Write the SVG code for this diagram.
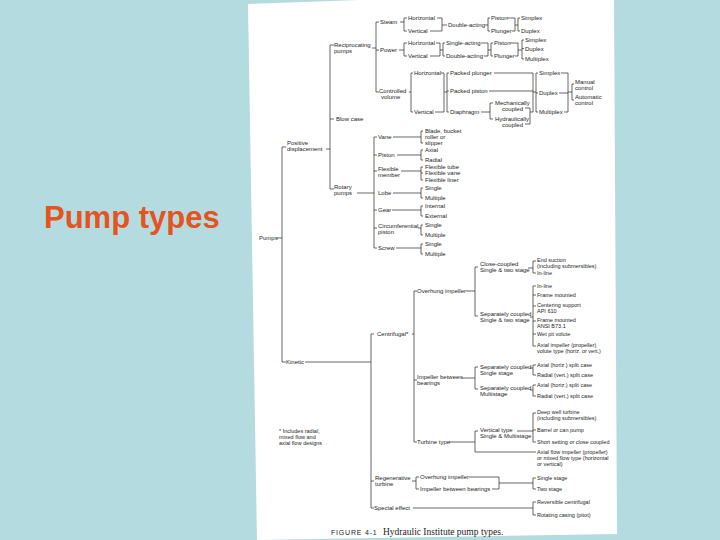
<svg xmlns="http://www.w3.org/2000/svg" width="720" height="540" viewBox="0 0 720 540">
<style>
.t{font-family:"Liberation Sans",Arial,sans-serif;font-size:6px;fill:#1e1e1e}
.r{font-family:"Liberation Sans",Arial,sans-serif;font-size:5.5px;fill:#1e1e1e}
.c{fill:none;stroke:#262626;stroke-width:0.7}
.title{font-family:"Liberation Sans",Arial,sans-serif;font-size:31px;font-weight:bold;fill:#e5531f}
</style>
<rect width="720" height="540" fill="#b4dce0"/>
<polygon points="248,4 360,0 614,0 617,534 257,540" fill="#ffffff"/>
<text class="title" x="44" y="228">Pump types</text>

<g id="connectors" class="c">
<path d="M277,238 H282 M286,147 H282 V362 H286"/>
<path d="M326,149 H330 M334,45 H330 V189 H334 M330,119 H334"/>
<path d="M372,48 H376 M379,22 H376 V92 H379 M376,50 H379"/>
<path d="M400,22 H404 M407,18 H404 V31 H407 M437,18 H442 V31 H430 M442,25 H447 M485,25 H488 M490,18 H488 V31 H490 M507,18 H515 V31 H512 M515,25 H518 M520,18 H518 V31 H520"/>
<path d="M399,50 H404 M407,43 H404 V56 H407 M436,43 H440 V56 H430 M440,50 H443 M445,43 H443 V56 H445 M481,43 H488 V56 H484 M488,50 H491 M493,43 H491 V56 H493 M510,43 H518 V56 H515 M518,50 H522 M524,40 H522 V59 H524 M522,48.5 H524"/>
<path d="M409,92 H411 M413,73 H411 V112 H413 M441,73 H444 V112 H435 M444,92 H447 M449,73 H447 V112 H449 M447,91 H449"/>
<path d="M494,73 H533 V112 M489,91 H533 M481,112 H490 M493,103 H490 V119 H493 M525,108 H530 V124 H525 M530,112 H533 M533,92 H536 M538,73 H536 V112 H538 M536,93 H538 M561,73 H568 V112 H564 M559,93 H568 M568,92 H572 M574,84 H572 V100 H574"/>
<path d="M357,193 H374 M377,137 H374 V248 H377 M374,155 H377 M374,171 H377 M374,210 H377 M374,228 H377"/>
<path d="M393,137 H421 M423,131 H421 V143 H423 M397,155 H421 M423,150 H421 V160 H423 M401,171 H421 M423,167 H421 V180 H423 M421,173 H423 M393,193 H421 M423,188 H421 V198 H423 M392,210 H421 M423,206 H421 V216 H423 M418,228 H421 M423,225 H421 V235 H423 M396,248 H421 M423,244 H421 V254 H423"/>
<path d="M305,362 H371 M374,334 H371 V508 H374 M371,481 H374"/>
<path d="M412,334 H414 M417,291 H414 V442 H417 M414,380 H417"/>
<path d="M466,291 H475 M478,267 H475 V316 H478 M528,268 H533 M536,261 H533 V273 H536 M530,317 H533 M536,286 H533 V346 H536 M533,295 H536 M533,306 H536 M533,321 H536 M533,334 H536"/>
<path d="M461,378 H475 M478,367 H475 V389 H478 M530,368 H533 M536,365 H533 V375 H536 M530,390 H533 M536,385 H533 V396 H536"/>
<path d="M449,442 H475 M478,431 H475 V452 H536 M517,431 H533 M536,413 H533 V442 H536 M533,430 H536"/>
<path d="M412,481 H416 M419,477 H416 V489 H419 M469,477 H499 V489 H492 M499,483 H533 M536,478 H533 V489 H536 M413,508 H533 M536,502 H533 V515 H536"/>
</g>

<g id="pumps"><text class="t" x="259" y="240">Pumps</text></g>
<g id="positive-displacement"><text class="t" x="287" y="145">Positive</text><text class="t" x="287" y="151">displacement</text></g>
<g id="reciprocating"><text class="t" x="334" y="47">Reciprocating</text><text class="t" x="334" y="53">pumps</text></g>
<g id="blow-case"><text class="t" x="336" y="121">Blow case</text></g>
<g id="rotary"><text class="t" x="334" y="189">Rotary</text><text class="t" x="334" y="195">pumps</text></g>
<g id="steam"><text class="t" x="380" y="24">Steam</text></g>
<g id="power"><text class="t" x="380" y="52">Power</text></g>
<g id="controlled-volume"><text class="t" x="379" y="93">Controlled</text><text class="t" x="381" y="99">volume</text></g>

<g id="s-horizontal"><text class="t" x="408" y="20">Horizontal</text></g>
<g id="s-vertical"><text class="t" x="408" y="33">Vertical</text></g>
<g id="s-double"><text class="t" x="448" y="27">Double-acting</text></g>
<g id="s-piston"><text class="t" x="491" y="20">Piston</text></g>
<g id="s-plunger"><text class="t" x="491" y="33">Plunger</text></g>
<g id="s-simplex"><text class="t" x="521" y="20">Simplex</text></g>
<g id="s-duplex"><text class="t" x="521" y="33">Duplex</text></g>

<g id="p-horizontal"><text class="t" x="408" y="45">Horizontal</text></g>
<g id="p-vertical"><text class="t" x="408" y="58">Vertical</text></g>
<g id="p-single"><text class="t" x="446" y="45">Single-acting</text></g>
<g id="p-double"><text class="t" x="446" y="58">Double-acting</text></g>
<g id="p-piston"><text class="t" x="494" y="45">Piston</text></g>
<g id="p-plunger"><text class="t" x="494" y="58">Plunger</text></g>
<g id="p-simplex"><text class="t" x="525" y="42">Simplex</text></g>
<g id="p-duplex"><text class="t" x="525" y="50.5">Duplex</text></g>
<g id="p-multiplex"><text class="t" x="525" y="61">Multiplex</text></g>

<g id="c-horizontal"><text class="t" x="414" y="75">Horizontal</text></g>
<g id="c-vertical"><text class="t" x="414" y="114">Vertical</text></g>
<g id="packed-plunger"><text class="t" x="450" y="75">Packed plunger</text></g>
<g id="packed-piston"><text class="t" x="450" y="93">Packed piston</text></g>
<g id="diaphragm"><text class="t" x="450" y="114">Diaphragm</text></g>
<g id="mech"><text class="t" x="495" y="105">Mechanically</text><text class="t" x="502" y="111">coupled</text></g>
<g id="hyd"><text class="t" x="495" y="121">Hydraulically</text><text class="t" x="502" y="127">coupled</text></g>
<g id="c-simplex"><text class="t" x="539" y="75">Simplex</text></g>
<g id="c-duplex"><text class="t" x="539" y="95">Duplex</text></g>
<g id="c-multiplex"><text class="t" x="539" y="114">Multiplex</text></g>
<g id="manual"><text class="t" x="575" y="84">Manual</text><text class="t" x="575" y="90">control</text></g>
<g id="automatic"><text class="t" x="575" y="99">Automatic</text><text class="t" x="575" y="105">control</text></g>

<g id="vane"><text class="t" x="378" y="139">Vane</text></g>
<g id="blade"><text class="t" x="425" y="133">Blade, bucket</text><text class="t" x="425" y="139">roller or</text><text class="t" x="425" y="145">slipper</text></g>
<g id="r-piston"><text class="t" x="378" y="157">Piston</text></g>
<g id="axial"><text class="t" x="425" y="152">Axial</text></g>
<g id="radial"><text class="t" x="425" y="162">Radial</text></g>
<g id="flexible-member"><text class="t" x="378" y="171">Flexible</text><text class="t" x="378" y="177">member</text></g>
<g id="flex-tube"><text class="t" x="425" y="169">Flexible tube</text></g>
<g id="flex-vane"><text class="t" x="425" y="175">Flexible vane</text></g>
<g id="flex-liner"><text class="t" x="425" y="182">Flexible liner</text></g>
<g id="lobe"><text class="t" x="378" y="195">Lobe</text></g>
<g id="lobe-single"><text class="t" x="425" y="190">Single</text></g>
<g id="lobe-multiple"><text class="t" x="425" y="200">Multiple</text></g>
<g id="gear"><text class="t" x="378" y="212">Gear</text></g>
<g id="internal"><text class="t" x="425" y="208">Internal</text></g>
<g id="external"><text class="t" x="425" y="218">External</text></g>
<g id="circumferential"><text class="t" x="378" y="228">Circumferential</text><text class="t" x="378" y="234">piston</text></g>
<g id="circ-single"><text class="t" x="425" y="227">Single</text></g>
<g id="circ-multiple"><text class="t" x="425" y="237">Multiple</text></g>
<g id="screw"><text class="t" x="378" y="250">Screw</text></g>
<g id="screw-single"><text class="t" x="425" y="246">Single</text></g>
<g id="screw-multiple"><text class="t" x="425" y="256">Multiple</text></g>

<g id="kinetic"><text class="t" x="286" y="364">Kinetic</text></g>
<g id="centrifugal"><text class="t" x="377" y="336">Centrifugal*</text></g>
<g id="overhung"><text class="t" x="417" y="293">Overhung impeller</text></g>
<g id="close-coupled"><text class="t" x="480" y="266">Close-coupled</text><text class="t" x="480" y="272">Single &amp; two stage</text></g>
<g id="end-suction"><text class="r" x="537" y="262">End suction</text><text class="r" x="537" y="268">(including submersibles)</text></g>
<g id="in-line-1"><text class="r" x="537" y="275">In-line</text></g>
<g id="sep-coupled-1"><text class="t" x="480" y="316">Separately coupled</text><text class="t" x="480" y="322">Single &amp; two stage</text></g>
<g id="in-line-2"><text class="r" x="537" y="288">In-line</text></g>
<g id="frame-mounted"><text class="r" x="537" y="297">Frame mounted</text></g>
<g id="centering"><text class="r" x="537" y="307">Centering support</text><text class="r" x="537" y="313">API 610</text></g>
<g id="frame-ansi"><text class="r" x="537" y="322">Frame mounted</text><text class="r" x="537" y="328">ANSI B73.1</text></g>
<g id="wet-pit"><text class="r" x="537" y="336">Wet pit volute</text></g>
<g id="axial-impeller"><text class="r" x="537" y="347">Axial impeller (propeller)</text><text class="r" x="537" y="353">volute type (horiz. or vert.)</text></g>
<g id="impeller-between"><text class="t" x="417" y="379">Impeller between</text><text class="t" x="417" y="385">bearings</text></g>
<g id="sep-single"><text class="t" x="480" y="369">Separately coupled</text><text class="t" x="480" y="375">Single stage</text></g>
<g id="axial-split-1"><text class="r" x="537" y="367">Axial (horiz.) split case</text></g>
<g id="radial-split-1"><text class="r" x="537" y="377">Radial (vert.) split case</text></g>
<g id="sep-multi"><text class="t" x="480" y="390">Separately coupled</text><text class="t" x="480" y="396">Multistage</text></g>
<g id="axial-split-2"><text class="r" x="537" y="387">Axial (horiz.) split case</text></g>
<g id="radial-split-2"><text class="r" x="537" y="398">Radial (vert.) split case</text></g>
<g id="turbine"><text class="t" x="417" y="444">Turbine type</text></g>
<g id="vertical-type"><text class="t" x="480" y="432">Vertical type</text><text class="t" x="480" y="438">Single &amp; Multistage</text></g>
<g id="deep-well"><text class="r" x="537" y="414">Deep well turbine</text><text class="r" x="537" y="420">(including submersibles)</text></g>
<g id="barrel"><text class="r" x="537" y="432">Barrel or can pump</text></g>
<g id="short-setting"><text class="r" x="537" y="444">Short setting or close coupled</text></g>
<g id="axial-flow"><text class="r" x="537" y="454">Axial flow impeller (propeller)</text><text class="r" x="537" y="460">or mixed flow type (horizontal</text><text class="r" x="537" y="466">or vertical)</text></g>
<g id="note"><text class="r" x="279" y="433">* Includes radial,</text><text class="r" x="279" y="439">mixed flow and</text><text class="r" x="279" y="445">axial flow designs</text></g>
<g id="regenerative"><text class="t" x="375" y="480">Regenerative</text><text class="t" x="375" y="486">turbine</text></g>
<g id="regen-overhung"><text class="t" x="420" y="479">Overhung impeller</text></g>
<g id="regen-between"><text class="t" x="420" y="491">Impeller between bearings</text></g>
<g id="single-stage"><text class="r" x="537" y="480">Single stage</text></g>
<g id="two-stage"><text class="r" x="537" y="491">Two stage</text></g>
<g id="special"><text class="t" x="374" y="510">Special effect</text></g>
<g id="reversible"><text class="r" x="537" y="504">Reversible centrifugal</text></g>
<g id="rotating"><text class="r" x="537" y="517">Rotating casing (pitot)</text></g>
<g id="caption"><text x="331" y="535" style="font-family:'Liberation Sans',Arial,sans-serif;font-size:7px;fill:#222;letter-spacing:0.8px">FIGURE 4-1</text><text x="383" y="535" style="font-family:'Liberation Serif','Times New Roman',serif;font-size:9.5px;fill:#222">Hydraulic Institute pump types.</text></g>
</svg>
